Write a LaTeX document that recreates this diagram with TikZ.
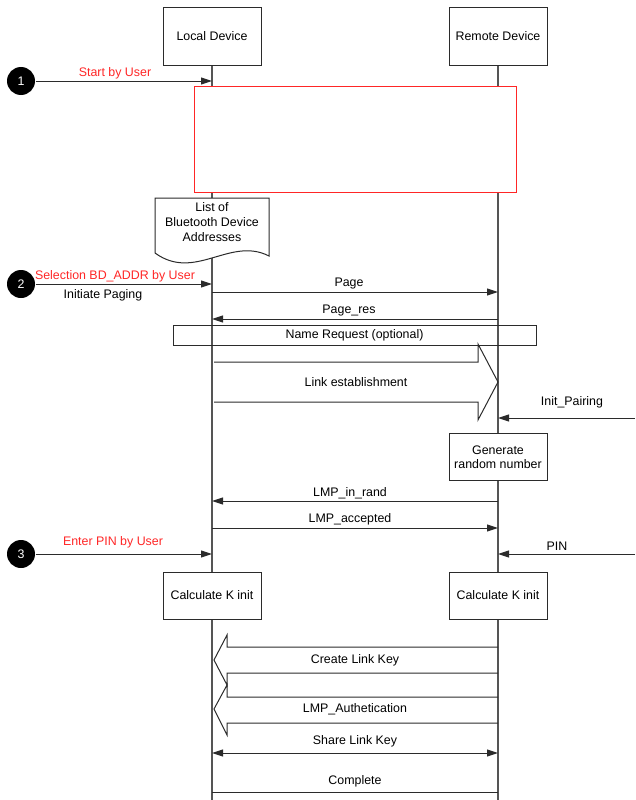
\documentclass[tikz,border=0pt]{standalone}
\usepackage{fontspec}
\setmainfont{Liberation Sans}
\usetikzlibrary{arrows.meta}
\definecolor{ln}{HTML}{2B2B2B}
\definecolor{lifeln}{HTML}{555555}
\definecolor{redtxt}{HTML}{FF2626}
\begin{document}
\begin{tikzpicture}[x=1pt,y=-1pt,
  font=\fontsize{12.4}{14.2}\selectfont,
  line width=1pt,
  devbox/.style={draw=ln, fill=white, minimum width=98pt, minimum height=58pt, inner sep=0pt, align=center},
  procbox/.style={draw=ln, fill=white, minimum width=98pt, minimum height=47pt, inner sep=0pt, align=center},
  lifeline/.style={draw=lifeln, line width=1.1pt},
  msg/.style={draw=ln, -{Triangle[length=11pt,width=7pt]}},
  dmsg/.style={draw=ln, {Triangle[length=11pt,width=7pt]}-{Triangle[length=11pt,width=7pt]}},
  plainmsg/.style={draw=ln},
  bigarrow/.style={draw=ln, line join=miter},
  lbl/.style={inner sep=0pt, anchor=center},
  redlbl/.style={inner sep=0pt, anchor=center, text=redtxt},
  stepnum/.style={circle, fill=black, text=white, minimum size=28pt, inner sep=0pt}
]
\useasboundingbox (0,0) rectangle (635,800);

% lifeline coordinates
\coordinate (Ltop) at (212,65);
\coordinate (Lbot) at (212,800);
\coordinate (Rtop) at (498,65);
\coordinate (Rbot) at (498,800);
\draw[lifeline] (Ltop) -- (Lbot);
\draw[lifeline] (Rtop) -- (Rbot);

% device boxes
\node[devbox] (local) at (212,36.5) {Local Device};
\node[devbox] (remote) at (498,36.5) {Remote Device};

% step 1
\node[stepnum] (s1) at (21,81) {1};
\coordinate (s1end) at (212,81);
\draw[msg] (s1) -- (s1end);
\node[redlbl] (t1) at (115,73) {Start by User};

% red box
\node[draw=redtxt, fill=white, minimum width=322pt, minimum height=106pt, inner sep=0pt] (redbox) at (355,139.5) {};

% document shape
\draw[draw=ln, fill=white] (155,198) -- (269,198) -- (269,256)
   .. controls (230,236) and (195,282) .. (155,253) -- cycle;
\node[lbl, align=center] (doc) at (212,222) {List of\\[0.8pt]Bluetooth Device\\[0.8pt]Addresses};

% step 2
\node[stepnum] (s2) at (21,284) {2};
\coordinate (s2end) at (212,284);
\draw[msg] (s2) -- (s2end);
\node[redlbl] (t2) at (115,276) {Selection BD\_ADDR by User};
\node[lbl] (t2b) at (103,295) {Initiate Paging};

% Page
\coordinate (pageL) at (212,292);
\coordinate (pageR) at (498,292);
\draw[msg] (pageL) -- (pageR);
\node[lbl] (tpage) at (349,284) {Page};

% Page_res
\coordinate (presR) at (498,319);
\coordinate (presL) at (212,319);
\draw[msg] (presR) -- (presL);
\node[lbl] (tpres) at (349,311) {Page\_res};

% Name request box
\node[draw=ln, minimum width=363pt, minimum height=20pt, inner sep=0pt] (namereq) at (354.5,335) {Name Request (optional)};

% Link establishment big arrow
\draw[bigarrow] (214,362) -- (478,362) -- (478,344) -- (498,382) -- (478,420) -- (478,402) -- (214,402);
\node[lbl] (tlink) at (356,382) {Link establishment};

% Init_Pairing
\coordinate (ipR) at (635,418);
\coordinate (ipL) at (498,418);
\draw[msg] (ipR) -- (ipL);
\node[lbl] (tip) at (572,402) {Init\_Pairing};

% Generate random number
\node[procbox] (gen) at (498,457) {Generate\\[-0.5pt]random number};

% LMP_in_rand
\coordinate (irR) at (498,501);
\coordinate (irL) at (212,501);
\draw[msg] (irR) -- (irL);
\node[lbl] (tir) at (350,493) {LMP\_in\_rand};

% LMP_accepted
\coordinate (acL) at (212,528);
\coordinate (acR) at (498,528);
\draw[msg] (acL) -- (acR);
\node[lbl] (tac) at (350,519) {LMP\_accepted};

% step 3
\node[stepnum] (s3) at (21,554) {3};
\coordinate (s3end) at (212,554);
\draw[msg] (s3) -- (s3end);
\node[redlbl] (t3) at (113,542) {Enter PIN by User};

% PIN
\coordinate (pinR) at (635,554);
\coordinate (pinL) at (498,554);
\draw[msg] (pinR) -- (pinL);
\node[lbl] (tpin) at (557,546) {PIN};

% Calculate K init
\node[procbox] (calcL) at (212,595.5) {Calculate K init};
\node[procbox] (calcR) at (498,595.5) {Calculate K init};

% Create Link Key big arrow
\draw[bigarrow] (498,647) -- (227,647) -- (227,635) -- (214,660) -- (227,685) -- (227,673) -- (498,673);
\node[lbl] (tclk) at (355,660) {Create Link Key};

% LMP_Authetication big arrow
\draw[bigarrow] (498,697) -- (227,697) -- (227,685) -- (214,709) -- (227,735) -- (227,723) -- (498,723);
\node[lbl] (tauth) at (355,709) {LMP\_Authetication};

% Share Link Key
\coordinate (shL) at (212,753);
\coordinate (shR) at (498,753);
\draw[dmsg] (shL) -- (shR);
\node[lbl] (tsh) at (355,741) {Share Link Key};

% Complete
\coordinate (cpR) at (498,792);
\coordinate (cpL) at (212,792);
\draw[plainmsg] (cpR) -- (cpL);
\node[lbl] (tcp) at (355,781) {Complete};

\end{tikzpicture}
\end{document}
